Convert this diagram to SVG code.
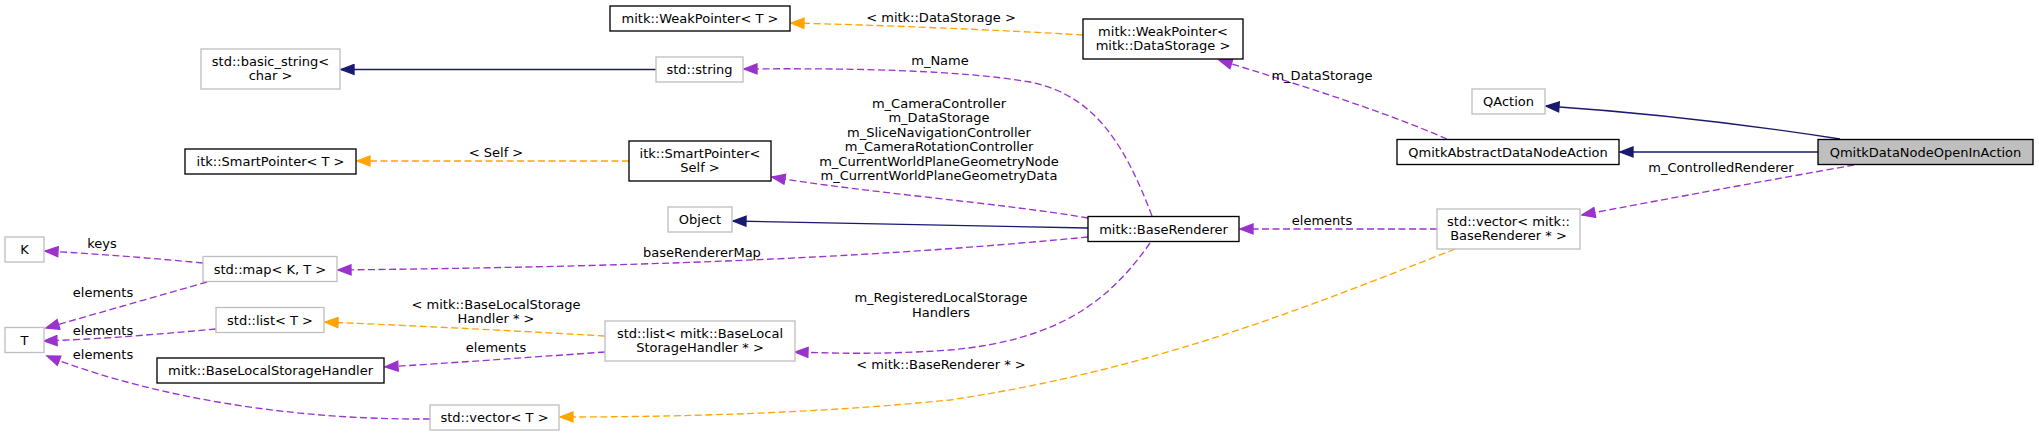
<svg xmlns="http://www.w3.org/2000/svg" width="2039" height="436" viewBox="0 0 2039 436">
<defs>
<style>
text{font-family:"DejaVu Sans","Liberation Sans",sans-serif;font-size:13px;fill:#000;text-anchor:middle}
.doc{fill:#fff;stroke:#000;stroke-width:1.33}
.und{fill:#fff;stroke:#bfbfbf;stroke-width:1.33}
.cur{fill:#bfbfbf;stroke:#000;stroke-width:1.33}
.inh{fill:none;stroke:#191970;stroke-width:1.33}
.use{fill:none;stroke:#9a32cd;stroke-width:1.33;stroke-dasharray:7,3.5}
.tpl{fill:none;stroke:#ffa500;stroke-width:1.33;stroke-dasharray:7,3.5}
</style>
<marker id="aN" markerUnits="userSpaceOnUse" markerWidth="16" markerHeight="12" refX="13" refY="5" orient="auto" viewBox="-1 -1 16 12"><path d="M0,0 L13,5 L0,10 z" fill="#191970" stroke="#191970" stroke-width="1.33"/></marker>
<marker id="aP" markerUnits="userSpaceOnUse" markerWidth="16" markerHeight="12" refX="13" refY="5" orient="auto" viewBox="-1 -1 16 12"><path d="M0,0 L13,5 L0,10 z" fill="#9a32cd" stroke="#9a32cd" stroke-width="1.33"/></marker>
<marker id="aO" markerUnits="userSpaceOnUse" markerWidth="16" markerHeight="12" refX="13" refY="5" orient="auto" viewBox="-1 -1 16 12"><path d="M0,0 L13,5 L0,10 z" fill="#ffa500" stroke="#ffa500" stroke-width="1.33"/></marker>
</defs>
<rect width="2039" height="436" fill="#fff"/>
<g id="edges">
<path class="inh" d="M656,69.5 L341,69.5" marker-end="url(#aN)"/>
<path class="tpl" d="M1083,35 C1000,30 880,25 791,23" marker-end="url(#aO)"/>
<path class="tpl" d="M629,161 L357,161" marker-end="url(#aO)"/>
<path class="use" d="M1152,216 C1125,145 1095,95 1030,82 C960,70 850,68 744,69" marker-end="url(#aP)"/>
<path class="use" d="M1088,218 C1000,203 860,192 772,177" marker-end="url(#aP)"/>
<path class="inh" d="M1088,228 L733,221" marker-end="url(#aN)"/>
<path class="use" d="M1088,237 C900,255 700,266 338,270" marker-end="url(#aP)"/>
<path class="use" d="M203,263 C150,258 100,254 45,251" marker-end="url(#aP)"/>
<path class="use" d="M207,282 L46,328" marker-end="url(#aP)"/>
<path class="use" d="M216,329 C150,335 100,339 44,341" marker-end="url(#aP)"/>
<path class="use" d="M430,419 C300,420 160,400 47,356" marker-end="url(#aP)"/>
<path class="tpl" d="M605,336 C500,330 420,326 325,322" marker-end="url(#aO)"/>
<path class="use" d="M605,352 C520,358 450,363 385,367" marker-end="url(#aP)"/>
<path class="use" d="M1150,243 C1110,300 1060,340 950,350 C880,355 830,353 795,352" marker-end="url(#aP)"/>
<path class="tpl" d="M1455,249 C1300,310 1150,370 950,400 C800,415 650,417 560,417" marker-end="url(#aO)"/>
<path class="use" d="M1437,229 L1240,229" marker-end="url(#aP)"/>
<path class="inh" d="M1840,139 C1750,125 1650,113 1546,106" marker-end="url(#aN)"/>
<path class="inh" d="M1818,152 L1620,152" marker-end="url(#aN)"/>
<path class="use" d="M1447,139 C1380,110 1300,85 1219,60" marker-end="url(#aP)"/>
<path class="use" d="M1854,165 C1770,180 1660,200 1582,215" marker-end="url(#aP)"/>
<text x="941" y="21.5">&lt; mitk::DataStorage &gt;</text>
<text x="940" y="64.5">m_Name</text>
<text x="939" y="107.5">m_CameraController</text>
<text x="939" y="122">m_DataStorage</text>
<text x="939" y="136.5">m_SliceNavigationController</text>
<text x="939" y="151">m_CameraRotationController</text>
<text x="939" y="165.5">m_CurrentWorldPlaneGeometryNode</text>
<text x="939" y="180">m_CurrentWorldPlaneGeometryData</text>
<text x="496" y="156.5">&lt; Self &gt;</text>
<text x="1322" y="79.5">m_DataStorage</text>
<text x="1721" y="171.5">m_ControlledRenderer</text>
<text x="1322" y="224.5">elements</text>
<text x="702" y="256.5">baseRendererMap</text>
<text x="102" y="247.5">keys</text>
<text x="103" y="296.5">elements</text>
<text x="103" y="334.5">elements</text>
<text x="103" y="358.5">elements</text>
<text x="496" y="308.5">&lt; mitk::BaseLocalStorage</text>
<text x="496" y="322.5">Handler * &gt;</text>
<text x="496" y="351.5">elements</text>
<text x="941" y="301.5">m_RegisteredLocalStorage</text>
<text x="941" y="316.5">Handlers</text>
<text x="941" y="368.5">&lt; mitk::BaseRenderer * &gt;</text>
</g>
<g id="n_weakT"><rect class="doc" x="610" y="6" width="180" height="25"/><text x="700" y="23">mitk::WeakPointer&lt; T &gt;</text></g>
<g id="n_weakDS"><rect class="doc" x="1083" y="19" width="160" height="40"/><text x="1163" y="36">mitk::WeakPointer&lt;</text><text x="1163" y="50">mitk::DataStorage &gt;</text></g>
<g id="n_bstr"><rect class="und" x="201" y="49" width="139" height="40"/><text x="270.5" y="66">std::basic_string&lt;</text><text x="270.5" y="80">char &gt;</text></g>
<g id="n_str"><rect class="und" x="656" y="57" width="87" height="25"/><text x="699.5" y="74">std::string</text></g>
<g id="n_spT"><rect class="doc" x="185" y="149" width="171" height="25"/><text x="270.5" y="166">itk::SmartPointer&lt; T &gt;</text></g>
<g id="n_spS"><rect class="doc" x="629" y="141" width="142" height="40"/><text x="700" y="158">itk::SmartPointer&lt;</text><text x="700" y="172">Self &gt;</text></g>
<g id="n_obj"><rect class="und" x="668" y="207" width="64" height="25"/><text x="700" y="224">Object</text></g>
<g id="n_br"><rect class="doc" x="1088" y="216.5" width="151" height="25"/><text x="1163.5" y="233.5">mitk::BaseRenderer</text></g>
<g id="n_qaction"><rect class="und" x="1472" y="89" width="73" height="25"/><text x="1508.5" y="106">QAction</text></g>
<g id="n_abs"><rect class="doc" x="1397" y="139.5" width="222" height="25"/><text x="1508" y="156.5">QmitkAbstractDataNodeAction</text></g>
<g id="n_open"><rect class="cur" x="1818" y="139.5" width="215" height="25"/><text x="1925.5" y="156.5">QmitkDataNodeOpenInAction</text></g>
<g id="n_vecBR"><rect class="und" x="1437" y="209" width="143" height="40"/><text x="1508.5" y="226">std::vector&lt; mitk::</text><text x="1508.5" y="240">BaseRenderer * &gt;</text></g>
<g id="n_K"><rect class="und" x="5" y="237" width="39" height="25"/><text x="24.5" y="254">K</text></g>
<g id="n_map"><rect class="und" x="203" y="256.5" width="134" height="25"/><text x="270" y="273.5">std::map&lt; K, T &gt;</text></g>
<g id="n_T"><rect class="und" x="5" y="327.5" width="39" height="25"/><text x="24.5" y="344.5">T</text></g>
<g id="n_listT"><rect class="und" x="216" y="307.5" width="108" height="25"/><text x="270" y="324.5">std::list&lt; T &gt;</text></g>
<g id="n_handler"><rect class="doc" x="157" y="358" width="227" height="25"/><text x="270.5" y="375">mitk::BaseLocalStorageHandler</text></g>
<g id="n_listBL"><rect class="und" x="605" y="321" width="190" height="40"/><text x="700" y="338">std::list&lt; mitk::BaseLocal</text><text x="700" y="352">StorageHandler * &gt;</text></g>
<g id="n_vecT"><rect class="und" x="430" y="405" width="129" height="25"/><text x="494.5" y="422">std::vector&lt; T &gt;</text></g>
</svg>
